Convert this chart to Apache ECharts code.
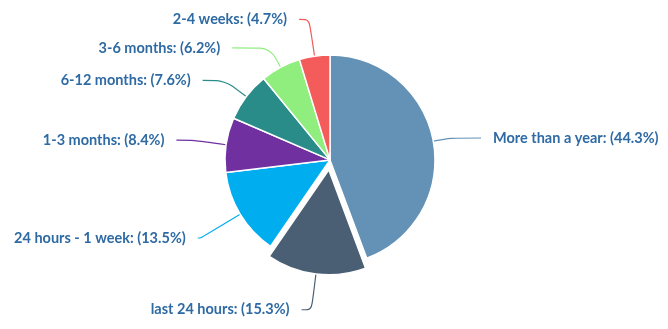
<!DOCTYPE html>
<html>
<head>
<meta charset="utf-8">
<script src="https://cdn.jsdelivr.net/npm/echarts@6/dist/echarts.min.js"></script>
<style>
  html, body { margin: 0; padding: 0; background: #fff; }
  #chart { width: 668px; height: 329px; }
</style>
</head>
<body>
<div id="chart"></div>
<script>
// Time since last update, share of respondents (%)
const categories = [
  'More than a year',
  'last 24 hours',
  '24 hours - 1 week',
  '1-3 months',
  '6-12 months',
  '3-6 months',
  '2-4 weeks'
];
const shares = [44.3, 15.3, 13.5, 8.4, 7.6, 6.2, 4.7];
const sliceColors = ['#6392b6', '#4a5f74', '#00aeef', '#7030a0', '#2a8c88', '#90ee7e', '#f45b5b'];
const highlighted = 'last 24 hours';

// Leader line segment lengths per slice: [radial part, horizontal part]
const leaderLengths = {
  'More than a year': [18, 30],
  'last 24 hours': [36, 10],
  '24 hours - 1 week': [46, 3],
  '1-3 months': [32, 18],
  '6-12 months': [27, 22],
  '3-6 months': [22, 38],
  '2-4 weeks': [37, 10]
};

const chart = echarts.init(document.getElementById('chart'), null, { renderer: 'canvas' });

const data = categories.map((name, i) => ({
  name: name,
  value: shares[i],
  selected: name === highlighted,
  itemStyle: { color: sliceColors[i] },
  labelLine: {
    length: leaderLengths[name][0],
    length2: leaderLengths[name][1],
    lineStyle: { color: sliceColors[i] }
  }
}));

chart.setOption({
  animation: false,
  series: [{
    type: 'pie',
    center: ['49.4%', '48.6%'],
    radius: 105,
    startAngle: 90,
    clockwise: true,
    selectedMode: 'single',
    selectedOffset: 10,
    itemStyle: { borderColor: '#ffffff', borderWidth: 1.5 },
    label: {
      show: true,
      formatter: p => p.name + ': (' + p.value.toFixed(1) + '%)',
      color: '#2e6aa3',
      fontFamily: 'Lato',
      fontWeight: 'bold',
      fontSize: 14.5,
      overflow: 'none',
      distanceToLabelLine: 12
    },
    labelLine: {
      show: true,
      smooth: 0.3,
      lineStyle: { width: 1.2 }
    },
    data: data
  }]
});
</script>
</body>
</html>
